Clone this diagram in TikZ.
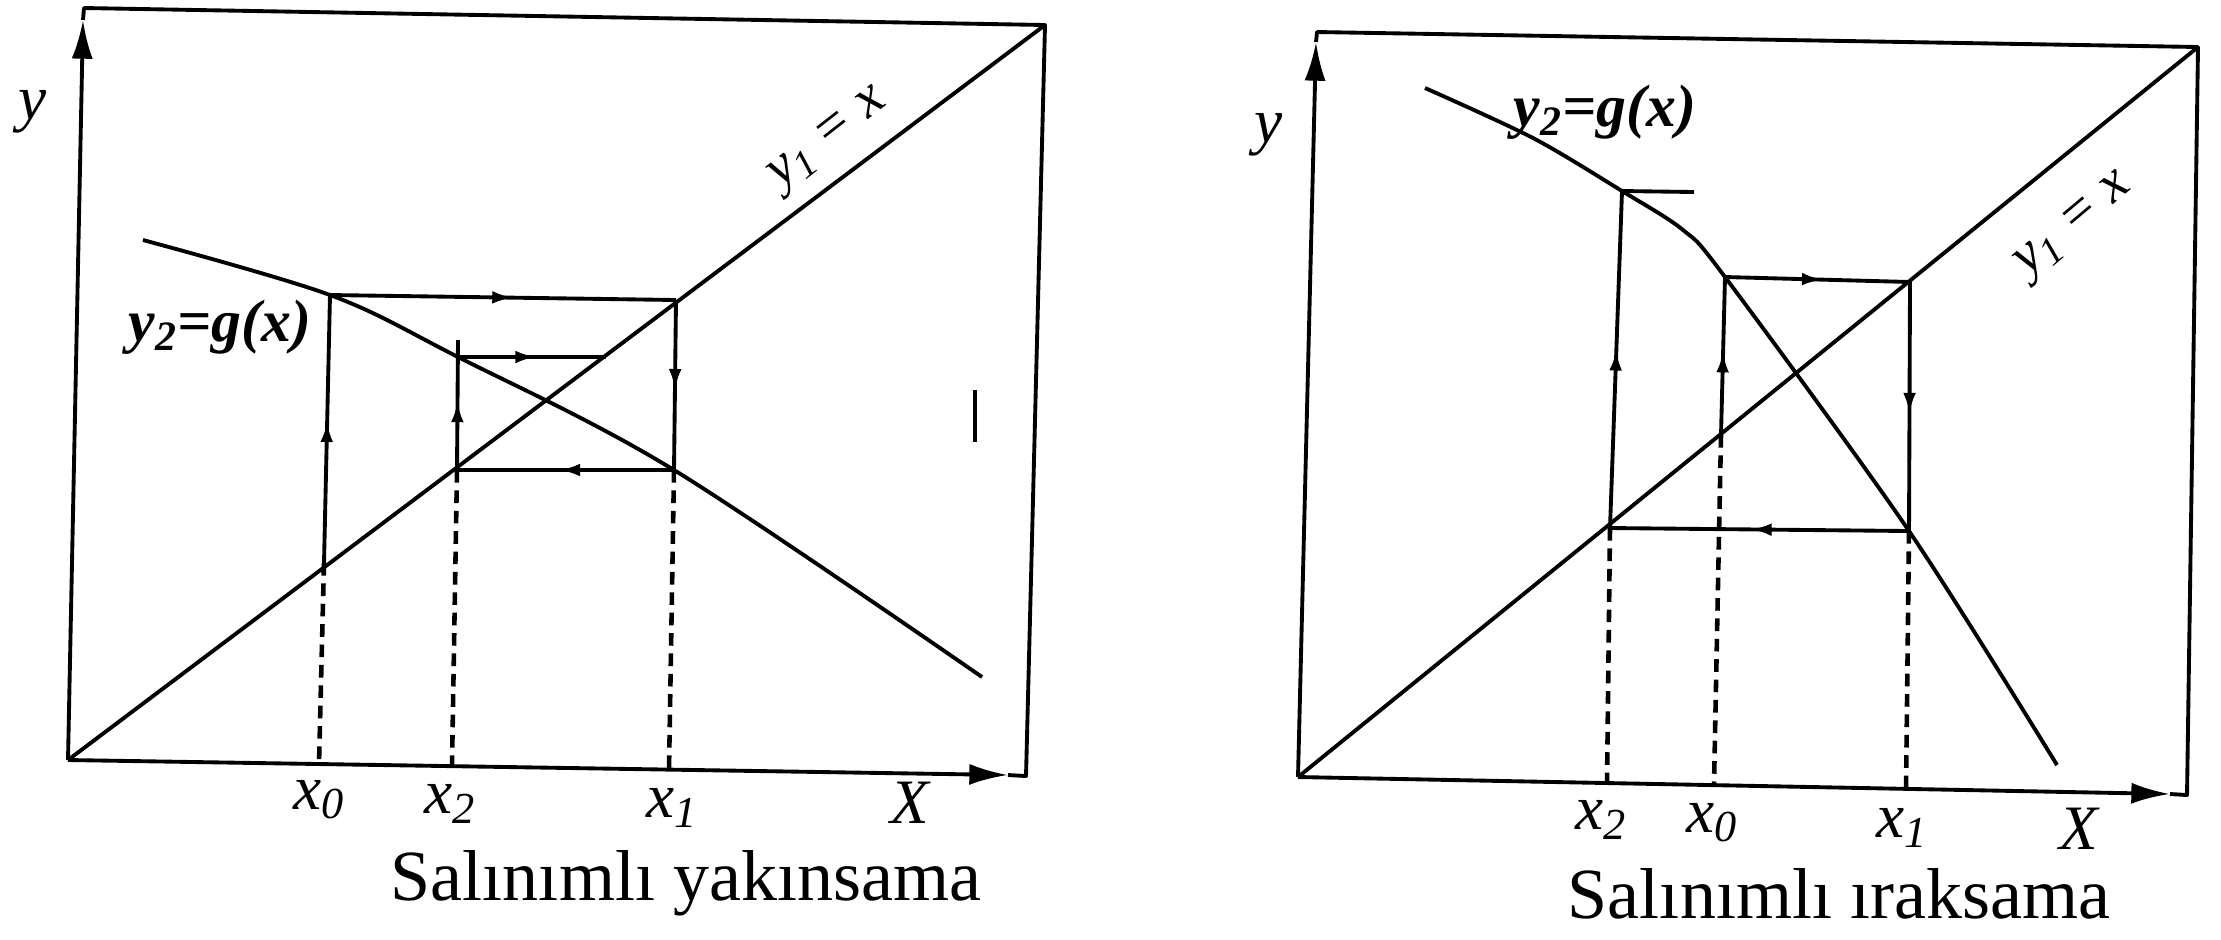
\documentclass[tikz,border=0pt]{standalone}
\usepackage{fontspec}
\setmainfont{Liberation Serif}
\usetikzlibrary{arrows.meta,decorations.markings}
\begin{document}
\begin{tikzpicture}[x=0.1mm,y=-0.1mm,
  ln/.style={line width=1.1pt,line join=round},
  axis/.style={ln,-{Latex[length=11pt,width=6pt]}},
  guide/.style={line width=1.3pt,dash pattern=on 3.6pt off 2.2pt},
  midarr/.style={postaction={decorate},decoration={markings,mark=at position 0.53 with {\arrow{Latex[length=6pt,width=3.6pt]}}}},
  lbl/.style={font=\fontsize{18}{20}\selectfont\itshape,inner sep=0pt},
  captext/.style={font=\fontsize{20.5}{24}\selectfont,inner sep=0pt,anchor=base},
  fn/.style={font=\fontsize{17}{20}\selectfont\bfseries\itshape,inner sep=0pt},
  idl/.style={font=\fontsize{16}{20}\selectfont\itshape,inner sep=0pt}]
\useasboundingbox (0,0) rectangle (2221,939);

% ---------------- left plot ----------------
\coordinate (LO) at (68,760);
\coordinate (LTL) at (84,8);
\coordinate (LTR) at (1045,25);
\coordinate (LBR) at (1026,776);
\coordinate (LYT) at (83,20);
\coordinate (LXT) at (1008,775);
\draw[ln] (LYT) -- (LTL) -- (LTR) -- (LBR) -- (LXT);
\draw[axis] (LO) -- (LYT);
\draw[axis] (LO) -- (LXT);
\draw[ln] (LO) -- (LTR);

\coordinate (LA) at (330,295);
\coordinate (LB) at (676,300);
\coordinate (LC) at (674,470);
\coordinate (LD) at (457,470);
\coordinate (LE) at (458,340);
\coordinate (LF) at (458,357);
\coordinate (LG) at (606,357);
\coordinate (LH) at (324,563);
\coordinate (LX0) at (319,764);
\coordinate (LX2) at (452,766);
\coordinate (LX1) at (669,770);

\draw[ln] plot[smooth,tension=0.55] coordinates {(143,240) (LA) (LF) (LC) (982,677)};
\draw[ln,midarr] (LH) -- (LA);
\draw[ln,midarr] (LA) -- (LB);
\draw[ln,midarr] (LB) -- (LC);
\draw[ln,midarr] (LC) -- (LD);
\draw[ln,midarr] (LD) -- (LE);
\draw[ln,midarr] (LF) -- (LG);
\draw[guide] (LH) -- (LX0);
\draw[guide] (LD) -- (LX2);
\draw[guide] (LC) -- (LX1);
\coordinate (LM1) at (975,390);
\coordinate (LM2) at (975,442);
\draw[ln] (LM1) -- (LM2);

\node[lbl] (Ly) at (33,112) {y};
\node[lbl] (LXl) at (910,803) {X};
\node[lbl] (Lx0) at (319,800) {x\textsubscript{0}};
\node[lbl] (Lx2) at (450,804) {x\textsubscript{2}};
\node[lbl] (Lx1) at (672,808) {x\textsubscript{1}};
\node[fn] (Lg) at (220,327) {y\textsubscript{2}=g(x)};
\node[idl,rotate=38] (Ld) at (830,141) {y\textsubscript{1} = x};
\node[captext] (Lcap) at (686,900) {Salınımlı yakınsama};

% ---------------- right plot ----------------
\coordinate (RO) at (1298,777);
\coordinate (RTL) at (1317,32);
\coordinate (RTR) at (2198,47);
\coordinate (RBR) at (2187,795);
\coordinate (RYT) at (1316,42);
\coordinate (RXT) at (2170,794);
\draw[ln] (RYT) -- (RTL) -- (RTR) -- (RBR) -- (RXT);
\draw[axis] (RO) -- (RYT);
\draw[axis] (RO) -- (RXT);
\draw[ln] (RO) -- (RTR);

\coordinate (RP) at (1622,191);
\coordinate (RS) at (1694,192);
\coordinate (RA) at (1725,277);
\coordinate (RB) at (1910,282);
\coordinate (RC) at (1909,531);
\coordinate (RD) at (1610,528);
\coordinate (RH) at (1721,435);
\coordinate (RX2) at (1607,783);
\coordinate (RX0) at (1714,785);
\coordinate (RX1) at (1906,789);

\draw[ln] plot[smooth,tension=0.5] coordinates {(1425,88) (1533,138) (RP) (1683,230) (RA) (RC) (2057,765)};
\draw[ln,midarr] (RH) -- (RA);
\draw[ln,midarr] (RA) -- (RB);
\draw[ln,midarr] (RB) -- (RC);
\draw[ln,midarr] (RC) -- (RD);
\draw[ln,midarr] (RD) -- (RP);
\draw[ln] (RP) -- (RS);
\draw[guide] (RD) -- (RX2);
\draw[guide] (RH) -- (RX0);
\draw[guide] (RC) -- (RX1);

\node[lbl] (Ry) at (1269,135) {y};
\node[lbl] (RXl) at (2079,829) {X};
\node[lbl] (Rx2) at (1601,820) {x\textsubscript{2}};
\node[lbl] (Rx0) at (1712,823) {x\textsubscript{0}};
\node[lbl] (Rx1) at (1902,828) {x\textsubscript{1}};
\node[fn] (Rg) at (1605,112) {y\textsubscript{2}=g(x)};
\node[idl,rotate=40] (Rd) at (2076,227) {y\textsubscript{1} = x};
\node[captext] (Rcap) at (1839,918) {Salınımlı ıraksama};
\end{tikzpicture}
\end{document}
